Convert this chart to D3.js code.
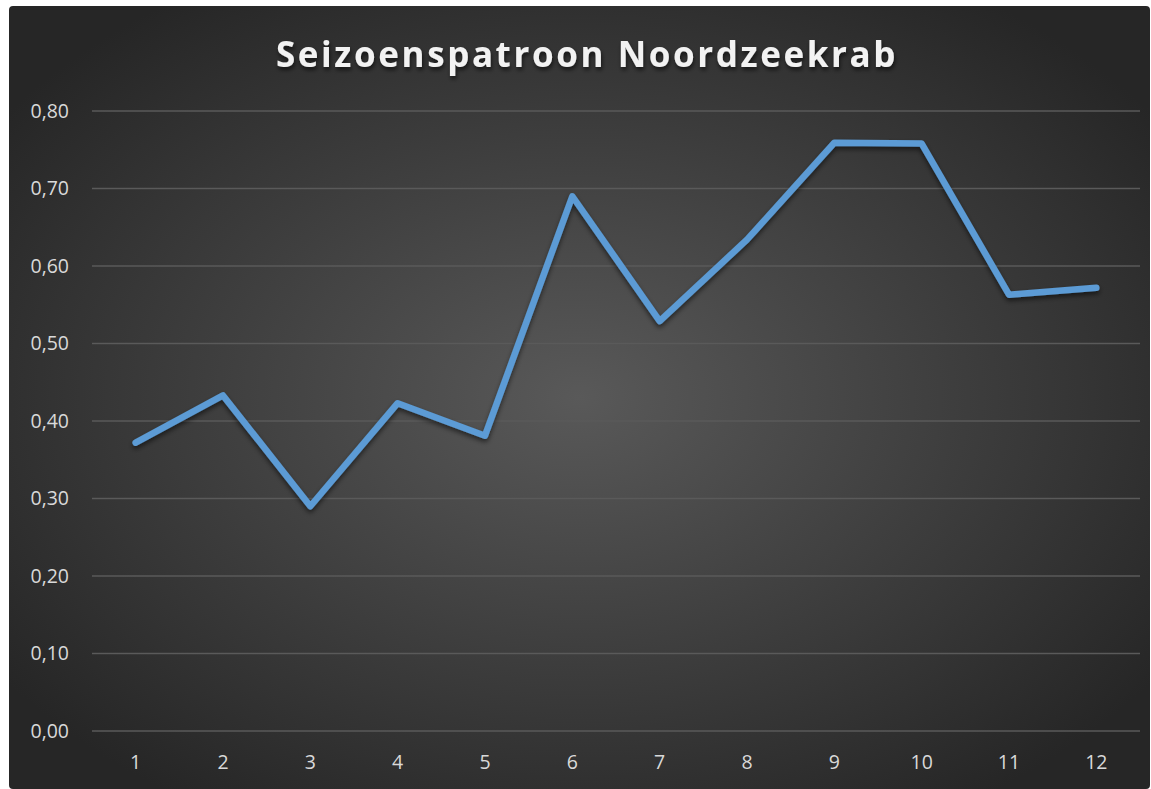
<!DOCTYPE html>
<html>
<head>
<meta charset="utf-8">
<script src="https://d3js.org/d3.v7.min.js"></script>
<style>
  body { margin: 0; background: #ffffff; }
  svg { display: block; }
</style>
</head>
<body>
<svg id="chart" width="1151" height="789"></svg>
<script>
// data
const months = ["1", "2", "3", "4", "5", "6", "7", "8", "9", "10", "11", "12"];
const values = [0.372, 0.433, 0.290, 0.423, 0.381, 0.690, 0.529, 0.634, 0.759, 0.758, 0.563, 0.572];
const yTicks = [0, 0.1, 0.2, 0.3, 0.4, 0.5, 0.6, 0.7, 0.8];
const title = "Seizoenspatroon Noordzeekrab";

const svg = d3.select("#chart");
const width = 1151, height = 789;
const margin = {top: 111, right: 11, bottom: 58, left: 92};

const defs = svg.append("defs");
const grad = defs.append("radialGradient")
    .attr("id", "bg")
    .attr("cx", "50%").attr("cy", "50%").attr("r", "62%");
grad.append("stop").attr("offset", "0%").attr("stop-color", "#595959");
grad.append("stop").attr("offset", "100%").attr("stop-color", "#262626");

const shadow = defs.append("filter").attr("id", "shadow")
    .attr("x", "-5%").attr("y", "-5%").attr("width", "110%").attr("height", "120%");
shadow.append("feDropShadow")
    .attr("dx", 0).attr("dy", 3).attr("stdDeviation", 2.5)
    .attr("flood-color", "#000").attr("flood-opacity", 0.55);

const tshadow = defs.append("filter").attr("id", "tshadow")
    .attr("x", "-5%").attr("y", "-20%").attr("width", "110%").attr("height", "150%");
tshadow.append("feDropShadow")
    .attr("dx", 1).attr("dy", 3).attr("stdDeviation", 2)
    .attr("flood-color", "#000").attr("flood-opacity", 0.6);

// background panel
svg.append("rect")
    .attr("x", 9).attr("y", 6)
    .attr("width", 1141).attr("height", 783)
    .attr("rx", 4)
    .attr("fill", "url(#bg)");

const x = d3.scaleBand()
    .domain(months)
    .range([margin.left, width - margin.right]);

const y = d3.scaleLinear()
    .domain([0, 0.8])
    .range([height - margin.bottom, margin.top]);

// gridlines
svg.append("g")
    .selectAll("line")
    .data(yTicks)
    .enter()
    .append("line")
    .attr("x1", margin.left)
    .attr("x2", width - margin.right)
    .attr("y1", d => y(d))
    .attr("y2", d => y(d))
    .attr("stroke", "#5a5a5a")
    .attr("stroke-width", 1.3);

// y labels
const fmt = d => d3.format(".2f")(d).replace(".", ",");
svg.append("g")
    .selectAll("text")
    .data(yTicks)
    .enter()
    .append("text")
    .attr("x", 69)
    .attr("y", d => y(d))
    .attr("dy", "0.35em")
    .attr("text-anchor", "end")
    .attr("font-family", "'Open Sans', sans-serif")
    .attr("font-size", 19.5)
    .attr("fill", "#d9d9d9")
    .text(fmt);

// x labels
svg.append("g")
    .selectAll("text")
    .data(months)
    .enter()
    .append("text")
    .attr("x", d => x(d) + x.bandwidth() / 2)
    .attr("y", 762)
    .attr("dy", "0.35em")
    .attr("text-anchor", "middle")
    .attr("font-family", "'Open Sans', sans-serif")
    .attr("font-size", 19.5)
    .attr("fill", "#d9d9d9")
    .text(d => d);

// line
const line = d3.line()
    .x((d, i) => x(months[i]) + x.bandwidth() / 2)
    .y(d => y(d));

svg.append("path")
    .datum(values)
    .attr("d", line)
    .attr("fill", "none")
    .attr("stroke", "#5b9bd5")
    .attr("stroke-width", 6.5)
    .attr("stroke-linecap", "round")
    .attr("stroke-linejoin", "round")
    .attr("filter", "url(#shadow)");

// title
svg.append("text")
    .attr("x", 587)
    .attr("y", 55)
    .attr("dy", "0.35em")
    .attr("text-anchor", "middle")
    .attr("font-family", "'Open Sans', sans-serif")
    .attr("font-weight", "bold")
    .attr("font-size", 35)
    .attr("letter-spacing", 2.6)
    .attr("fill", "#f2f2f2")
    .attr("filter", "url(#tshadow)")
    .text(title);
</script>
</body>
</html>
